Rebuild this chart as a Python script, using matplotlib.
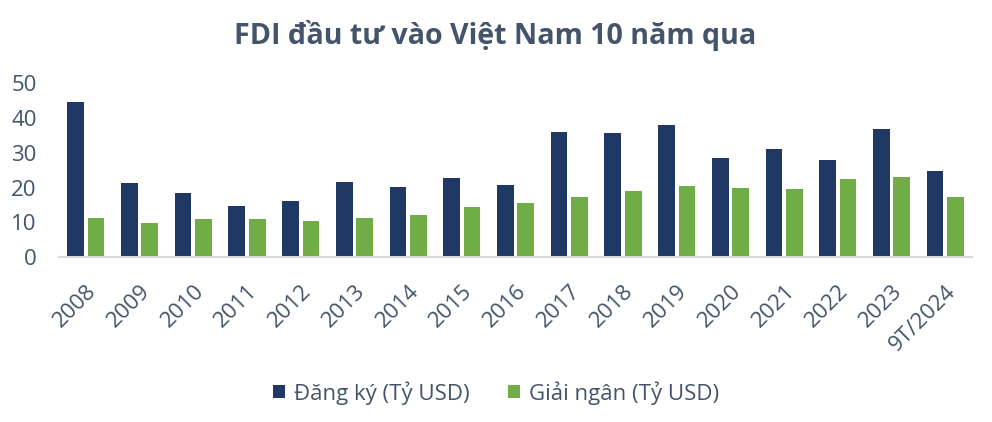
"""
Grouped bar chart: FDI registered vs disbursed in Vietnam, 2008 - 9T/2024.
"""

import matplotlib
matplotlib.use("Agg")
import matplotlib.pyplot as plt
import numpy as np

plt.rcParams["font.family"] = ["Open Sans", "DejaVu Sans"]

years = ["2008", "2009", "2010", "2011", "2012", "2013", "2014", "2015", "2016",
         "2017", "2018", "2019", "2020", "2021", "2022", "2023", "9T/2024"]
registered = [44.5, 21.3, 18.4, 14.7, 16.1, 21.6, 20.1, 22.7, 20.7,
              35.9, 35.6, 37.9, 28.4, 31.0, 27.9, 36.7, 24.7]
disbursed = [11.3, 9.8, 11.0, 11.0, 10.4, 11.3, 12.1, 14.4, 15.6,
             17.3, 19.0, 20.4, 19.8, 19.6, 22.4, 23.0, 17.3]
series_names = ["Đăng ký (Tỷ USD)", "Giải ngân (Tỷ USD)"]
y_ticks = [0, 10, 20, 30, 40, 50]

NAVY = "#1F3864"
GREEN = "#70AD47"
TEXT = "#44546A"

fig = plt.figure(figsize=(9.92, 4.22), dpi=100)
ax = fig.add_axes([0.0595, 0.39, 0.9205, 0.414])

x = np.arange(len(years))
width = 0.31
ax.bar(x - 0.19, registered, width, color=NAVY, label=series_names[0])
ax.bar(x + 0.19, disbursed, width, color=GREEN, label=series_names[1])

ax.set_xlim(-0.5, len(years) - 0.5)
ax.set_ylim(0, 50)
ax.set_yticks(y_ticks)
ax.tick_params(axis="y", length=0, pad=16, labelsize=16, labelcolor=TEXT)
ax.set_xticks(x)
ax.set_xticklabels(years, rotation=45, ha="right", va="top",
                   rotation_mode="anchor")
ax.tick_params(axis="x", length=0, pad=17, labelsize=16, labelcolor=TEXT)

for side in ["top", "right", "left"]:
    ax.spines[side].set_visible(False)
ax.spines["bottom"].set_color("#D9D9D9")
ax.spines["bottom"].set_linewidth(1.5)

fig.text(0.499, 0.915, "FDI đầu tư vào Việt Nam 10 năm qua", ha="center",
         va="center", fontsize=20.6, fontweight="bold", color=TEXT)

fig.legend(loc="center", bbox_to_anchor=(0.5, 0.069), ncol=2, frameon=False,
           fontsize=16, handlelength=0.55, handleheight=0.55, handletextpad=0.4,
           columnspacing=1.7, labelcolor=TEXT)

fig.savefig("out.png", dpi=100)
plt.close(fig)
